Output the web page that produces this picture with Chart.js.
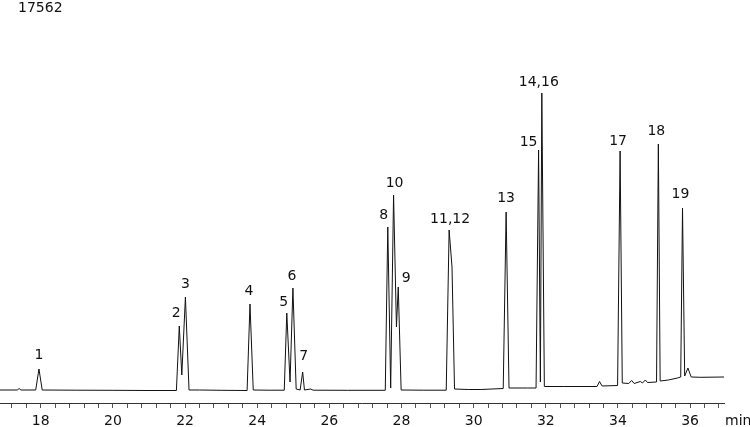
<!DOCTYPE html>
<html>
<head>
<meta charset="utf-8">
<script src="https://cdn.jsdelivr.net/npm/chart.js@4.4.0/dist/chart.umd.min.js"></script>
<style>
  html, body { margin: 0; padding: 0; background: #fff; }
  #wrap { position: relative; width: 750px; height: 427px; }
</style>
</head>
<body>
<div id="wrap"><canvas id="chart" width="750" height="427"></canvas></div>
<script>
// Chromatogram trace (time in min, detector response)
const traceTimes = [
  16.87, 17.35, 17.40, 17.45, 17.86, 17.95, 18.04, 19.0, 20.0, 21.0,
  21.76, 21.84, 21.91, 22.01, 22.11, 22.4, 23.0, 23.72, 23.80, 23.89,
  24.3, 24.75, 24.82, 24.91, 24.99, 25.08, 25.19, 25.26, 25.31, 25.48,
  25.55, 26.5, 27.55, 27.62, 27.70, 27.78, 27.86, 27.91, 27.99, 28.6,
  29.24, 29.32, 29.40, 29.47, 29.85, 30.2, 30.82, 30.90, 30.98, 31.5,
  31.73, 31.80, 31.85, 31.89, 31.96, 32.5, 33.42, 33.49, 33.56, 33.99,
  34.06, 34.12, 34.30, 34.38, 34.45, 34.62, 34.68, 34.76, 34.82, 35.07,
  35.12, 35.17, 35.4, 35.65, 35.74, 35.79, 35.85, 35.94, 36.03, 36.3,
  36.94
];
const traceSignal = [
  13, 13, 14.5, 13, 13, 34, 13, 12.8, 12.7, 12.5,
  12.5, 77, 28, 106, 13, 13, 12.7, 12.5, 99, 13,
  12.8, 12.8, 90, 21, 115, 14, 13, 31, 13, 14,
  12.8, 12.7, 12.7, 176, 15, 208, 76, 116, 13, 12.8,
  12.8, 173, 136, 14, 13.5, 13.5, 14.5, 191, 15, 15,
  15, 253, 21, 310, 16.5, 16.5, 16.5, 21.5, 17, 17.5,
  252, 20, 19.5, 22.5, 19.5, 21.5, 20, 23, 20.5, 21,
  259, 22, 23, 25, 26, 195, 27, 35, 26, 25.7,
  26
];

// Peak labels and the apex they sit on
const peakNames  = ['1', '2', '3', '4', '5', '6', '7', '8', '10', '9', '11,12', '13', '15', '14,16', '17', '18', '19'];
const peakTimes  = [17.95, 21.84, 22.01, 23.80, 24.82, 24.99, 25.26, 27.62, 27.78, 27.91, 29.32, 30.90, 31.80, 31.89, 34.06, 35.12, 35.79];
const peakSignal = [34, 77, 106, 99, 90, 115, 31, 176, 208, 116, 173, 191, 253, 310, 252, 259, 195];

const axisLabels = [18, 20, 22, 24, 26, 28, 30, 32, 34, 36];
const sampleName = '17562';

const FONT = "'DejaVu Sans', Verdana, sans-serif";

// label nudges in px (relative to apex), mirrors the original annotation placement
const labelDx = [0, -3, 0, -1, -3, -1, 1, -4, 1, 8, 1, 0, -10, -3, -2, -2, -2];
const labelDy = [-14, -13, -13, -13, -11, -12, -16, -12, -12, -9, -11, -14, -8, -11, -10, -13, -14];

const peakLabels = {
  id: 'peakLabels',
  afterDatasetsDraw(chart) {
    const { ctx, scales: { x, y }, chartArea } = chart;
    ctx.save();
    ctx.font = '14px ' + FONT;
    ctx.fillStyle = '#111';
    ctx.textAlign = 'center';
    ctx.textBaseline = 'middle';
    peakNames.forEach((name, i) => {
      const px = x.getPixelForValue(peakTimes[i]) + labelDx[i];
      const py = y.getPixelForValue(peakSignal[i]) + labelDy[i];
      ctx.fillText(name, px, py);
    });
    // sample id top-left, unit at the end of the axis
    ctx.textAlign = 'left';
    ctx.fillText(sampleName, 18, 8.5);
    ctx.fillText('min', chartArea.right + 1, 421);
    ctx.restore();
  }
};

new Chart(document.getElementById('chart'), {
  type: 'line',
  data: {
    datasets: [{
      data: traceTimes.map((t, i) => ({ x: t, y: traceSignal[i] })),
      borderColor: '#111',
      borderWidth: 1,
      pointRadius: 0,
      tension: 0,
      fill: false,
    }],
  },
  options: {
    responsive: false,
    animation: false,
    layout: { padding: { left: 0, right: 26, top: 0, bottom: 0 } },
    plugins: { legend: { display: false }, tooltip: { enabled: false } },
    scales: {
      x: {
        type: 'linear',
        min: 16.87,
        max: 36.94,
        afterBuildTicks(scale) {
          const ticks = [];
          for (let k = 43; k <= 92; k++) ticks.push({ value: Math.round(k * 4) / 10 });
          scale.ticks = ticks;
        },
        afterFit(scale) { scale.height = 24; },
        grid: { display: true, drawOnChartArea: false, drawTicks: true, tickLength: 5, color: '#555' },
        border: { display: true, color: '#333', width: 1 },
        ticks: {
          autoSkip: false,
          maxRotation: 0,
          padding: 5,
          color: '#111',
          font: { family: FONT, size: 14 },
          callback: (v) => axisLabels.includes(Math.round(v * 10) / 10) ? String(Math.round(v)) : '',
        },
      },
      y: { display: false, min: 0, max: 403 },
    },
  },
  plugins: [peakLabels],
});
</script>
</body>
</html>
